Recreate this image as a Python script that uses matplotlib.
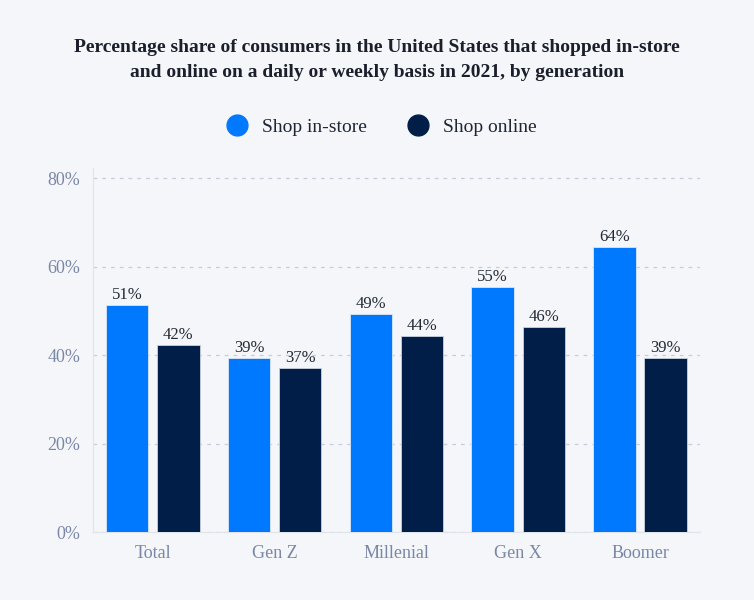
import numpy as np
import matplotlib.pyplot as plt
from matplotlib.lines import Line2D

# data
generations = ["Total", "Gen Z", "Millenial", "Gen X", "Boomer"]
in_store = [51.3, 39.3, 49.3, 55.4, 64.4]
online = [42.3, 37.1, 44.3, 46.3, 39.3]
in_store_labels = ["51%", "39%", "49%", "55%", "64%"]
online_labels = ["42%", "37%", "44%", "46%", "39%"]
yticks = [0, 20, 40, 60, 80]

bg = "#f4f6f9"
blue = "#0179fe"
navy = "#001e47"
grey = "#7a87a6"

plt.rcParams["font.family"] = ["Liberation Serif", "DejaVu Serif"]

fig = plt.figure(figsize=(7.54, 6), dpi=100, facecolor=bg)
ax = fig.add_axes([0.1233, 0.1133, 0.805, 0.6067], facecolor=bg)

x = np.arange(len(generations))
w = 0.35
off = 0.21
b1 = ax.bar(x - off, in_store, w, color=blue, edgecolor="#dbe6f5", linewidth=0.6, zorder=3)
b2 = ax.bar(x + off, online, w, color=navy, edgecolor="#c9d1de", linewidth=0.6, zorder=3)

for bars, labs in [(b1, in_store_labels), (b2, online_labels)]:
    for r, lab in zip(bars, labs):
        ax.annotate(lab, (r.get_x() + r.get_width() / 2, r.get_height()),
                    xytext=(0, 1.5), textcoords="offset points",
                    ha="center", va="bottom", fontsize=12, color="#222a36")

ax.set_xlim(-0.49, 4.49)
ax.set_ylim(0, 82.3)
ax.set_yticks(yticks)
ax.set_yticklabels([f"{v}%" for v in yticks])
ax.set_xticks(x)
ax.set_xticklabels(generations)
ax.tick_params(axis="both", length=0, labelsize=13, colors=grey)
ax.tick_params(axis="x", pad=9)
ax.tick_params(axis="y", pad=9)

ax.grid(axis="y", linestyle=(0, (3, 4)), color="#c5ccdb", linewidth=0.9, zorder=0)
for s in ["top", "right"]:
    ax.spines[s].set_visible(False)
ax.spines["left"].set_color("#dfe3ea")
ax.spines["bottom"].set_color("#dfe3ea")

fig.text(0.5, 0.9,
         "Percentage share of consumers in the United States that shopped in-store\n"
         "and online on a daily or weekly basis in 2021, by generation",
         ha="center", va="center", fontsize=14, fontweight="bold",
         color="#1a1f2b", linespacing=1.6)

handles = [Line2D([], [], marker="o", linestyle="", markersize=15, color=blue),
           Line2D([], [], marker="o", linestyle="", markersize=15, color=navy)]
fig.legend(handles, ["Shop in-store", "Shop online"], loc="center",
           bbox_to_anchor=(0.5, 0.788), ncol=2, frameon=False, fontsize=14,
           handletextpad=0.3, columnspacing=1.6, labelcolor="#1e2535")

fig.savefig("out.png", dpi=100, facecolor=bg)
